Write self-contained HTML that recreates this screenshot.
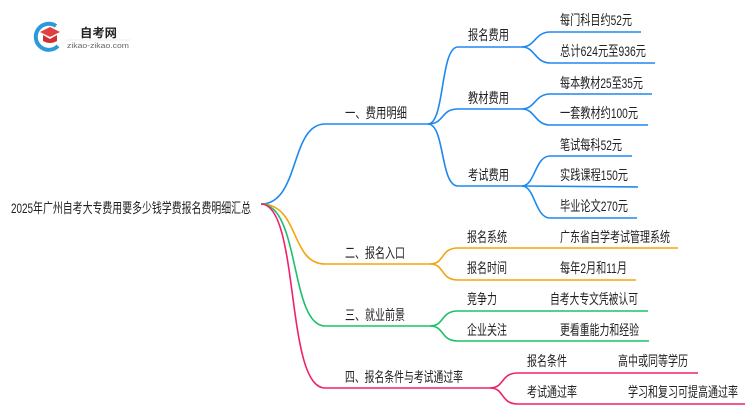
<!DOCTYPE html>
<html><head><meta charset="utf-8"><style>
html,body{margin:0;padding:0;background:#fff;}
svg{display:block;}
text{font-family:"Liberation Sans","Noto Sans CJK SC",sans-serif;font-size:14px;fill:#222;}
</style></head><body>
<svg width="750" height="410" viewBox="0 0 750 410" xmlns="http://www.w3.org/2000/svg">
<!-- logo -->
<path d="M56 26 A13 13 0 1 0 58 46" fill="none" stroke="#2a9ad8" stroke-width="4"/>
<path d="M40 32 L50 27 L60 32 L50 37 Z" fill="#e04040"/>
<path d="M43 35 L43 41 Q50 45 57 41 L57 35 L50 39 Z" fill="#d03030"/>
<text x="80" y="37" style="font-size:12px;font-weight:bold" textLength="37" lengthAdjust="spacingAndGlyphs">自考网</text>
<line x1="66" y1="40" x2="130" y2="40" stroke="#ddd" stroke-width="0.6"/>
<text x="67" y="48" style="font-size:7px;fill:#666" textLength="62" lengthAdjust="spacingAndGlyphs">zikao-zikao.com</text>

<text x="11" y="213" textLength="240" lengthAdjust="spacingAndGlyphs">2025年广州自考大专费用要多少钱学费报名费明细汇总</text>

<g fill="none" stroke-width="1.6">
<!-- blue -->
<g stroke="#1e88f0">
<path d="M261 204 C300 204 290 124 325 124 L428 124"/>
<path d="M428 124 C445 124 440 47 458 47 L522 47"/>
<path d="M428 124 C445 124 440 109 458 109 L522 109"/>
<path d="M428 124 C445 124 440 186 458 186 L522 186"/>
<path d="M522 47 C535 47 535 32 550 32 L641 32"/>
<path d="M522 47 C535 47 535 63 550 63 L655 63"/>
<path d="M522 109 C535 109 535 94 550 94 L652 94"/>
<path d="M522 109 C535 109 535 125 550 125 L648 125"/>
<path d="M522 186 C535 186 535 156 550 156 L632 156"/>
<path d="M522 186 L638 187"/>
<path d="M522 186 C535 186 535 218 550 218 L637 218"/>
</g>
<g stroke="#f2a50c">
<path d="M261 204 C300 204 290 264 325 264 L430 264"/>
<path d="M430 264 C445 264 440 248 458 248 L678 248"/>
<path d="M430 264 C445 264 440 280 458 280 L636 280"/>
</g>
<g stroke="#1dc06a">
<path d="M261 204 C300 204 290 326 325 326 L430 326"/>
<path d="M430 326 C445 326 440 311 458 311 L648 311"/>
<path d="M430 326 C445 326 440 341 458 341 L649 341"/>
</g>
<g stroke="#f0206e">
<path d="M261 204 C300 204 285 388 325 388 L490 388"/>
<path d="M490 388 C505 388 500 373 518 373 L698 373"/>
<path d="M490 388 C505 388 500 404 518 404 L745 404"/>
</g>
</g>

<text x="345" y="118" textLength="62" lengthAdjust="spacingAndGlyphs">一、费用明细</text>
<text x="468" y="40" textLength="41" lengthAdjust="spacingAndGlyphs">报名费用</text>
<text x="468" y="103" textLength="41" lengthAdjust="spacingAndGlyphs">教材费用</text>
<text x="468" y="180" textLength="41" lengthAdjust="spacingAndGlyphs">考试费用</text>
<text x="560" y="25" textLength="72" lengthAdjust="spacingAndGlyphs">每门科目约52元</text>
<text x="560" y="56" textLength="86" lengthAdjust="spacingAndGlyphs">总计624元至936元</text>
<text x="560" y="88" textLength="83" lengthAdjust="spacingAndGlyphs">每本教材25至35元</text>
<text x="560" y="118" textLength="78" lengthAdjust="spacingAndGlyphs">一套教材约100元</text>
<text x="560" y="150" textLength="62" lengthAdjust="spacingAndGlyphs">笔试每科52元</text>
<text x="560" y="180" textLength="68" lengthAdjust="spacingAndGlyphs">实践课程150元</text>
<text x="560" y="211" textLength="68" lengthAdjust="spacingAndGlyphs">毕业论文270元</text>

<text x="345" y="258" textLength="60" lengthAdjust="spacingAndGlyphs">二、报名入口</text>
<text x="467" y="242" textLength="40" lengthAdjust="spacingAndGlyphs">报名系统</text>
<text x="560" y="242" textLength="110" lengthAdjust="spacingAndGlyphs">广东省自学考试管理系统</text>
<text x="467" y="273" textLength="40" lengthAdjust="spacingAndGlyphs">报名时间</text>
<text x="560" y="273" textLength="67" lengthAdjust="spacingAndGlyphs">每年2月和11月</text>

<text x="345" y="320" textLength="60" lengthAdjust="spacingAndGlyphs">三、就业前景</text>
<text x="467" y="304" textLength="30" lengthAdjust="spacingAndGlyphs">竞争力</text>
<text x="550" y="304" textLength="88" lengthAdjust="spacingAndGlyphs">自考大专文凭被认可</text>
<text x="467" y="335" textLength="40" lengthAdjust="spacingAndGlyphs">企业关注</text>
<text x="560" y="335" textLength="79" lengthAdjust="spacingAndGlyphs">更看重能力和经验</text>

<text x="345" y="382" textLength="118" lengthAdjust="spacingAndGlyphs">四、报名条件与考试通过率</text>
<text x="527" y="366" textLength="40" lengthAdjust="spacingAndGlyphs">报名条件</text>
<text x="618" y="366" textLength="70" lengthAdjust="spacingAndGlyphs">高中或同等学历</text>
<text x="527" y="397" textLength="50" lengthAdjust="spacingAndGlyphs">考试通过率</text>
<text x="628" y="397" textLength="110" lengthAdjust="spacingAndGlyphs">学习和复习可提高通过率</text>
</svg>
</body></html>
